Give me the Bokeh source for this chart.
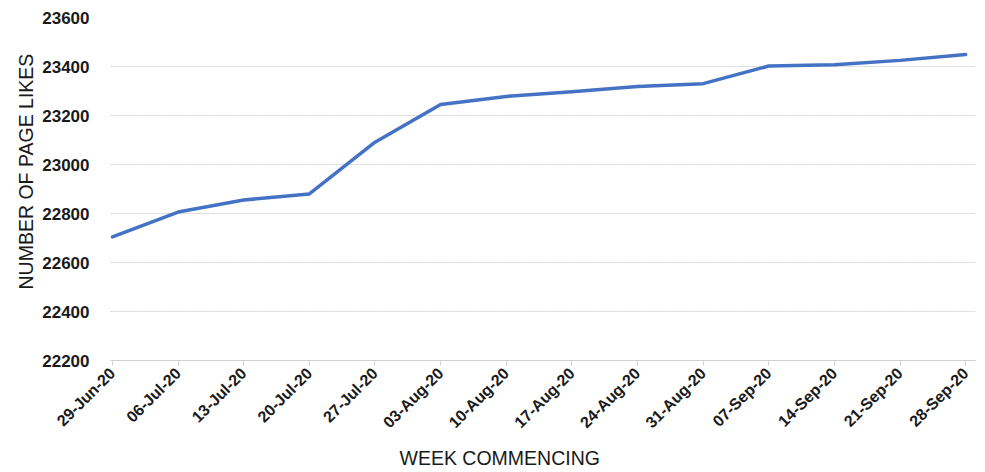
from bokeh.plotting import figure
from bokeh.models import Range1d, FixedTicker, Title
from bokeh.embed import file_html
from bokeh.resources import INLINE
import math

weeks = ["29-Jun-20", "06-Jul-20", "13-Jul-20", "20-Jul-20", "27-Jul-20", "03-Aug-20",
         "10-Aug-20", "17-Aug-20", "24-Aug-20", "31-Aug-20", "07-Sep-20", "14-Sep-20",
         "21-Sep-20", "28-Sep-20"]
likes = [22705, 22806, 22855, 22880, 23091, 23245, 23278, 23297, 23318, 23330,
         23402, 23407, 23425, 23449]
y_ticks = [22200, 22400, 22600, 22800, 23000, 23200, 23400, 23600]

xs = list(range(len(weeks)))

p = figure(width=985, height=472, output_backend="svg", toolbar_location=None,
           x_range=Range1d(-0.03, 13.15), y_range=Range1d(22200, 23600),
           min_border_left=110, min_border_right=10, min_border_top=17, min_border_bottom=111)
p.outline_line_color = None

p.line(xs, likes, line_color="#4472C4", line_width=3.5, line_join="round", line_cap="round")

p.xgrid.grid_line_color = None
p.ygrid.grid_line_color = "#d0d0d0"
p.ygrid.grid_line_width = 1
p.ygrid.grid_line_dash = "2 1"

# y axis
p.yaxis.ticker = FixedTicker(ticks=y_ticks)
p.yaxis.axis_line_color = None
p.yaxis.major_tick_line_color = None
p.yaxis.minor_tick_line_color = None
p.yaxis.major_label_standoff = 15
p.yaxis.major_label_text_font = "Liberation Sans"
p.yaxis.major_label_text_font_size = "17px"
p.yaxis.major_label_text_font_style = "bold"
p.yaxis.major_label_text_color = "#1a1a1a"

y_title = Title(text="NUMBER  OF  PAGE  LIKES", align="left", offset=71,
                text_font="Liberation Sans", text_font_size="19.5px",
                text_font_style="normal", text_color="#1a1a1a", standoff=6)
p.add_layout(y_title, "left")

# x axis
p.xaxis.ticker = FixedTicker(ticks=xs)
p.xaxis.major_label_overrides = {i: w for i, w in enumerate(weeks)}
p.xaxis.major_label_orientation = math.pi / 4
p.xaxis.axis_line_color = "#d0d0d0"
p.xaxis.major_tick_line_color = "#d0d0d0"
p.xaxis.major_tick_in = 0
p.xaxis.major_tick_out = 5
p.xaxis.minor_tick_line_color = None
p.xaxis.major_label_standoff = 5
p.xaxis.major_label_text_font = "Liberation Sans"
p.xaxis.major_label_text_font_size = "16px"
p.xaxis.major_label_text_font_style = "bold"
p.xaxis.major_label_text_color = "#1a1a1a"

x_title = Title(text="WEEK  COMMENCING", align="left", offset=289,
                text_font="Liberation Sans", text_font_size="19.5px",
                text_font_style="normal", text_color="#1a1a1a", standoff=8)
p.add_layout(x_title, "below")

open("out.html", "w").write(file_html(p, INLINE))
